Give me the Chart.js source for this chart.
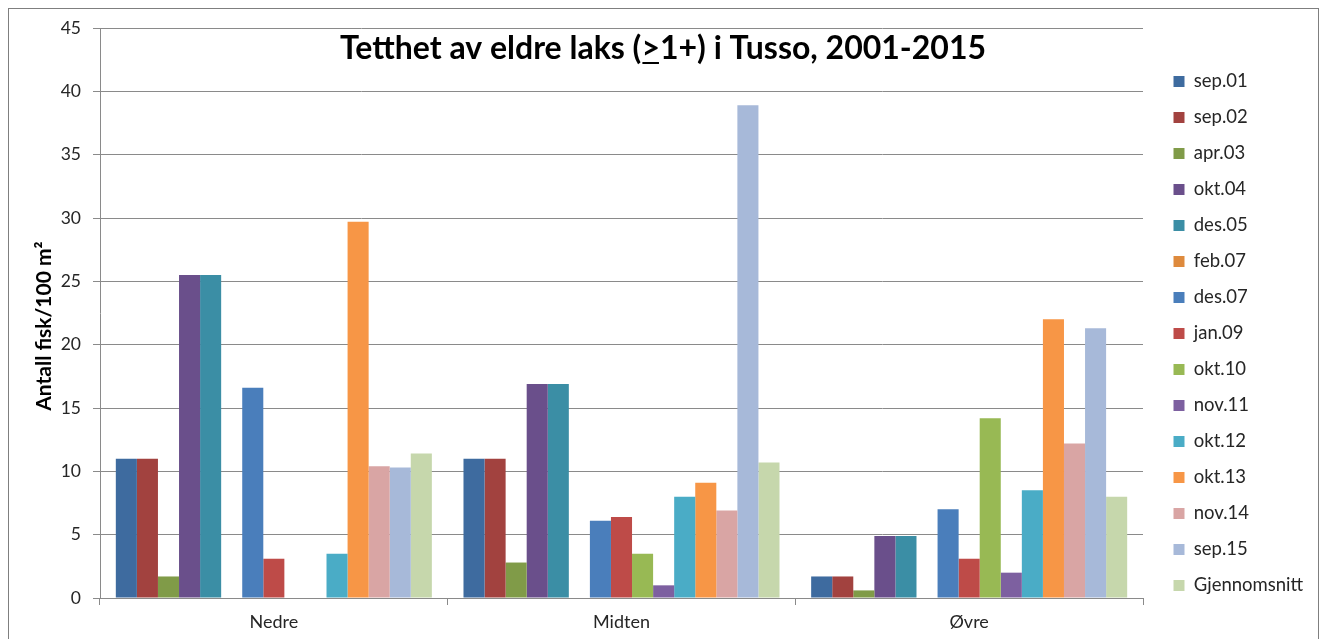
<!DOCTYPE html>
<html lang="no">
<head>
<meta charset="utf-8">
<title>Tetthet av eldre laks i Tusso, 2001-2015</title>
<script src="https://cdn.jsdelivr.net/npm/chart.js@4.4.1/dist/chart.umd.min.js"></script>
<style>
  html, body { margin: 0; padding: 0; background: #ffffff; }
  canvas { display: block; }
</style>
</head>
<body>
<canvas id="chart" width="1325" height="639"></canvas>
<script>
// Stasjonsgrupper langs elva
const categories = ['Nedre', 'Midten', 'Øvre'];

// Tetthet (antall fisk per 100 m²) for hver innsamling: [Nedre, Midten, Øvre]
const sep01 = [11.0, 11.0, 1.7];
const sep02 = [11.0, 11.0, 1.7];
const apr03 = [1.7, 2.8, 0.6];
const okt04 = [25.5, 16.9, 4.9];
const des05 = [25.5, 16.9, 4.9];
const feb07 = [null, null, null];
const des07 = [16.6, 6.1, 7.0];
const jan09 = [3.1, 6.4, 3.1];
const okt10 = [null, 3.5, 14.2];
const nov11 = [null, 1.0, 2.0];
const okt12 = [3.5, 8.0, 8.5];
const okt13 = [29.7, 9.1, 22.0];
const nov14 = [10.4, 6.9, 12.2];
const sep15 = [10.3, 38.9, 21.3];
const snitt = [11.4, 10.7, 8.0];

// Y-akse: 0-45 i steg på 5
const yTicks = [0, 5, 10, 15, 20, 25, 30, 35, 40, 45];

const seriesNames = ['sep.01', 'sep.02', 'apr.03', 'okt.04', 'des.05', 'feb.07', 'des.07',
  'jan.09', 'okt.10', 'nov.11', 'okt.12', 'okt.13', 'nov.14', 'sep.15', 'Gjennomsnitt'];
const seriesValues = [sep01, sep02, apr03, okt04, des05, feb07, des07,
  jan09, okt10, nov11, okt12, okt13, nov14, sep15, snitt];
const seriesColors = ['#3e6b9f', '#a2423f', '#809b48', '#6a4f8b', '#3b8ea5', '#de8a3d', '#4a7ebb',
  '#be4b48', '#98b954', '#7d60a0', '#4aacc6', '#f79646', '#d9a5a4', '#a7b9d9', '#c6d7ac'];

const FONT = 'Lato, Carlito, "Liberation Sans", sans-serif';
const TEXT = '#262626';
const LINE = '#8a8a8a';

// White page, grey frame round the whole figure
const frame = {
  id: 'frame',
  beforeDraw(chart) {
    const ctx = chart.ctx;
    ctx.save();
    ctx.fillStyle = '#ffffff';
    ctx.fillRect(0, 0, chart.width, chart.height);
    ctx.strokeStyle = '#7f7f7f';
    ctx.lineWidth = 1;
    ctx.strokeRect(8.5, 8.5, 1310, chart.height + 20);
    ctx.restore();
  }
};

// Heading drawn over the plot, with the ">" underlined (≥)
const heading = {
  id: 'heading',
  afterDraw(chart) {
    const ctx = chart.ctx;
    const parts = ['Tetthet av eldre laks (', '>', '1+) i Tusso, 2001-2015'];
    ctx.save();
    ctx.font = 'bold 32px ' + FONT;
    ctx.fillStyle = '#000000';
    ctx.textBaseline = 'alphabetic';
    ctx.textAlign = 'left';
    const widths = parts.map(p => ctx.measureText(p).width);
    const total = widths.reduce((a, b) => a + b, 0);
    let x = 663 - total / 2;
    const y = 59;
    parts.forEach((p, i) => {
      ctx.fillText(p, x, y);
      if (i === 1) {
        ctx.fillRect(x + 1, y + 3, widths[i] - 2, 2);
      }
      x += widths[i];
    });
    ctx.restore();
  }
};

// Fixed legend column with a gap to the plot
const legendColumn = {
  id: 'legendColumn',
  afterInit(chart) {
    const lg = chart.legend;
    if (!lg) return;
    const fit = lg.fit.bind(lg);
    lg.fit = function () { fit(); this.width = 182; };
    const draw = lg.draw.bind(lg);
    lg.draw = function () {
      const ctx = this.ctx;
      ctx.save();
      ctx.translate(13, 0);
      draw();
      ctx.restore();
    };
  }
};

new Chart(document.getElementById('chart'), {
  type: 'bar',
  data: {
    labels: categories,
    datasets: seriesNames.map((name, i) => ({
      label: name,
      data: seriesValues[i],
      backgroundColor: seriesColors[i],
      borderWidth: 0,
      categoryPercentage: 0.909,
      barPercentage: 1.0
    }))
  },
  options: {
    responsive: false,
    animation: false,
    devicePixelRatio: 1,
    layout: { padding: { left: 8, top: 28, right: 0, bottom: 0 } },
    plugins: {
      legend: {
        position: 'right',
        align: 'center',
        labels: {
          boxWidth: 11,
          boxHeight: 11,
          padding: 17.5,
          color: TEXT,
          font: { family: FONT, size: 18.5 }
        }
      },
      title: { display: false },
      tooltip: { enabled: false }
    },
    scales: {
      x: {
        grid: { drawOnChartArea: false, drawTicks: true, tickLength: 7, offset: true, color: LINE },
        border: { color: LINE },
        ticks: { padding: 6, color: TEXT, font: { family: FONT, size: 18 } },
        afterFit(scale) { scale.height = 41; }
      },
      y: {
        min: 0,
        max: 45,
        afterBuildTicks(scale) { scale.ticks = yTicks.map(v => ({ value: v })); },
        ticks: { padding: 12, color: TEXT, font: { family: FONT, size: 17.5 } },
        grid: { color: LINE, tickLength: 7, drawTicks: true },
        border: { color: LINE },
        title: {
          display: true,
          text: 'Antall fisk/100 m²\u2003\u2002',
          color: '#000000',
          font: { family: FONT, size: 21, weight: 'bold' },
          padding: { top: 24, bottom: 0 }
        },
        afterFit(scale) { scale.width = 92; }
      }
    }
  },
  plugins: [frame, heading, legendColumn]
});
</script>
</body>
</html>
